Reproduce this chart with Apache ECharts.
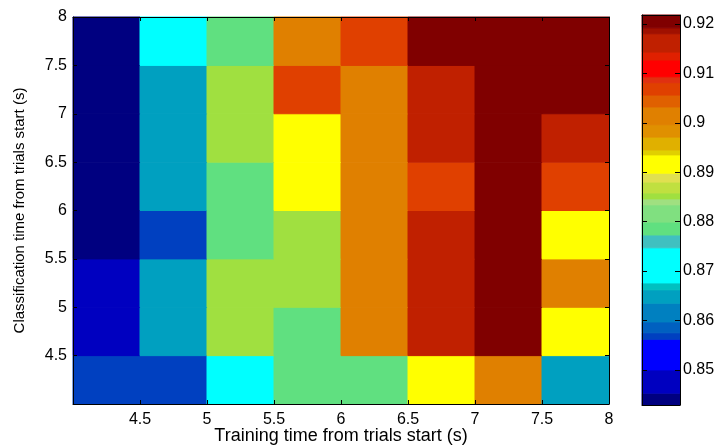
<!DOCTYPE html>
<html>
<head>
<meta charset="utf-8">
<script src="https://cdn.jsdelivr.net/npm/echarts@6/dist/echarts.min.js"></script>
<style>
  html, body { margin: 0; background: #fff; }
  #chart { width: 721px; height: 446px; }
</style>
</head>
<body>
<div id="chart"></div>
<script>
// cell centres (s)
const trainTimes = [4.25, 4.75, 5.25, 5.75, 6.25, 6.75, 7.25, 7.75]
const classTimes = [4.25, 4.75, 5.25, 5.75, 6.25, 6.75, 7.25, 7.75]
const cellSize = 0.5

// accuracy, one row per classification time (bottom row first)
const accuracy = [
  [0.8568, 0.8568, 0.8711, 0.8786, 0.8786, 0.8916, 0.9014, 0.8648],
  [0.8476, 0.8648, 0.8852, 0.8786, 0.9014, 0.9161, 0.9205, 0.8916],
  [0.8476, 0.8648, 0.8852, 0.8852, 0.9014, 0.9161, 0.9205, 0.9014],
  [0.8441, 0.8568, 0.8786, 0.8852, 0.9014, 0.9161, 0.9205, 0.8916],
  [0.8441, 0.8648, 0.8786, 0.8916, 0.9014, 0.9068, 0.9205, 0.9068],
  [0.8441, 0.8648, 0.8852, 0.8916, 0.9014, 0.9161, 0.9205, 0.9161],
  [0.8441, 0.8648, 0.8852, 0.9068, 0.9014, 0.9161, 0.9205, 0.9205],
  [0.8441, 0.8711, 0.8786, 0.9014, 0.9068, 0.9205, 0.9205, 0.9205]
]

// colour bands of the colorbar (bottom to top)
const bandEdges = [
  0.8429, 0.8453, 0.8500, 0.8562, 0.8575, 0.8597, 0.8635, 0.8662, 0.8676, 0.8747,
  0.8773, 0.8799, 0.8834, 0.8846, 0.8858, 0.8880, 0.8898, 0.8935, 0.8945, 0.8971,
  0.8996, 0.9032, 0.9056, 0.9081, 0.9093, 0.9127, 0.9143, 0.9180, 0.9192, 0.9218
]
const bandColors = [
  '#000080', '#0000c0', '#0000ff', '#0040c0', '#0060c0', '#0080c0', '#00a0c0', '#00c0c0',
  '#00ffff', '#40c0c0', '#60e080', '#80e080', '#a0e080', '#a0e040', '#c0e040', '#e0e050',
  '#ffff00', '#e0d000', '#e0b000', '#e09000', '#e08000', '#e06000', '#e04000', '#e03010',
  '#ff0000', '#e02000', '#c02000', '#a01000', '#800000'
]
const colorTicks = [0.85, 0.86, 0.87, 0.88, 0.89, 0.9, 0.91, 0.92]

const FONT = 'Liberation Sans'
const TXT = '#000'

let cells = []
classTimes.forEach((y, i) => {
  trainTimes.forEach((x, j) => {
    cells.push([x, y, accuracy[i][j]])
  })
})
let bands = bandColors.map((c, i) => [0.5, bandEdges[i], bandEdges[i + 1], i])
let pieces = bandColors.map((c, i) => ({ min: bandEdges[i], max: bandEdges[i + 1], color: c }))

// 边框坐标轴（刻度朝内）
function frameAxis(grid, pos, extra) {
  return Object.assign({
    type: 'value',
    gridIndex: grid,
    position: pos,
    z: 5,
    nameMoveOverlap: false,
    axisLine: { show: true, onZero: false, lineStyle: { color: '#000', width: 1 } },
    axisTick: { show: true, inside: true, length: 4, lineStyle: { color: '#000' } },
    axisLabel: { show: false },
    splitLine: { show: false }
  }, extra)
}

function block(p0, p1, color) {
  return {
    type: 'rect',
    shape: { x: p0[0], y: p0[1], width: p1[0] - p0[0], height: p1[1] - p0[1] },
    style: { fill: color, stroke: color, lineWidth: 1 }
  }
}

const chart = echarts.init(document.getElementById('chart'))
chart.setOption({
  animation: false,
  textStyle: { fontFamily: FONT },
  grid: [
    { left: 73, top: 17, width: 536, height: 387, outerBoundsMode: 'none' },
    { left: 642, top: 15, width: 38, height: 390, outerBoundsMode: 'none' }
  ],
  visualMap: {
    type: 'piecewise',
    show: false,
    seriesIndex: 0,
    dimension: 2,
    pieces: pieces
  },
  xAxis: [
    frameAxis(0, 'bottom', {
      min: 4, max: 8, interval: 0.5,
      axisLabel: { show: true, showMinLabel: false, fontSize: 16, color: TXT, margin: 8, fontFamily: FONT },
      name: 'Training time from trials start (s)',
      nameLocation: 'middle',
      nameGap: 23,
      nameTextStyle: { fontSize: 18, color: TXT, fontFamily: FONT }
    }),
    frameAxis(0, 'top', { min: 4, max: 8, interval: 0.5 }),
    frameAxis(1, 'bottom', { min: 0, max: 1, axisTick: { show: false } }),
    frameAxis(1, 'top', { min: 0, max: 1, axisTick: { show: false } })
  ],
  yAxis: [
    frameAxis(0, 'left', {
      min: 4, max: 8, interval: 0.5,
      axisLabel: { show: true, showMinLabel: false, fontSize: 16, color: TXT, margin: 6, fontFamily: FONT },
      name: 'Classification time from trials start (s)',
      nameLocation: 'middle',
      nameGap: 46,
      nameTextStyle: { fontSize: 15, color: TXT, fontFamily: FONT }
    }),
    frameAxis(0, 'right', { min: 4, max: 8, interval: 0.5 }),
    frameAxis(1, 'left', {
      min: bandEdges[0], max: bandEdges[bandEdges.length - 1],
      axisTick: { show: true, inside: true, length: 5, customValues: colorTicks, lineStyle: { color: '#000' } }
    }),
    frameAxis(1, 'right', {
      min: bandEdges[0], max: bandEdges[bandEdges.length - 1],
      axisTick: { show: true, inside: true, length: 5, customValues: colorTicks, lineStyle: { color: '#000' } },
      axisLabel: { show: true, customValues: colorTicks, fontSize: 16, color: TXT, margin: 3, fontFamily: FONT }
    })
  ],
  series: [
    {
      type: 'custom',
      xAxisIndex: 0,
      yAxisIndex: 0,
      data: cells,
      encode: { x: 0, y: 1 },
      renderItem(params, api) {
        const h = cellSize / 2
        const p0 = api.coord([api.value(0) - h, api.value(1) + h])
        const p1 = api.coord([api.value(0) + h, api.value(1) - h])
        return block(p0, p1, api.visual('color'))
      }
    },
    {
      type: 'custom',
      xAxisIndex: 2,
      yAxisIndex: 2,
      data: bands,
      encode: { x: 0, y: [1, 2] },
      renderItem(params, api) {
        const p0 = api.coord([0, api.value(2)])
        const p1 = api.coord([1, api.value(1)])
        return block(p0, p1, bandColors[api.value(3)])
      }
    }
  ]
})
</script>
</body>
</html>
